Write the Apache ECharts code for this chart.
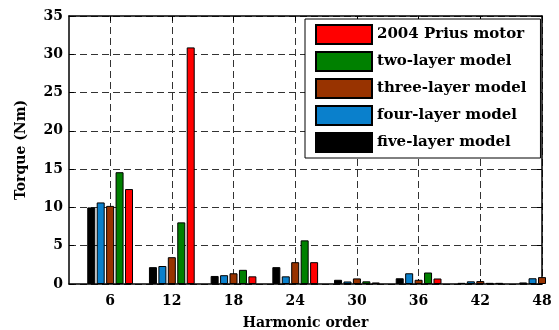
<!DOCTYPE html>
<html>
<head>
<meta charset="utf-8">
<script src="https://cdn.jsdelivr.net/npm/echarts@6/dist/echarts.min.js"></script>
<style>html,body{margin:0;padding:0;background:#fff}#c{width:559px;height:330px}</style>
</head>
<body>
<div id="c"></div>
<script>
const harmonics = [6, 12, 18, 24, 30, 36, 42, 48];
const fiveLayer  = [10.0, 2.2, 1.05, 2.2, 0.55, 0.75, 0.15, 0.2];
const fourLayer  = [10.65, 2.35, 1.15, 1.0, 0.33, 1.4, 0.35, 0.75];
const threeLayer = [10.2, 3.5, 1.4, 2.85, 0.73, 0.55, 0.38, 0.9];
const twoLayer   = [14.6, 8.05, 1.85, 5.7, 0.35, 1.5, 0.15, null];
const prius      = [12.4, 30.9, 1.0, 2.85, 0.2, 0.72, 0.15, null];
const yTicks = [0, 5, 10, 15, 20, 25, 30, 35];

const FONT = 'DejaVu Serif';
const seriesDefs = [
  {name: 'five-layer model', data: fiveLayer, color: '#000000'},
  {name: 'four-layer model', data: fourLayer, color: '#0a80cc'},
  {name: 'three-layer model', data: threeLayer, color: '#983300'},
  {name: 'two-layer model', data: twoLayer, color: '#008000'},
  {name: '2004 Prius motor', data: prius, color: '#ff0000'}
];

const chart = echarts.init(document.getElementById('c'), null, {renderer: 'canvas'});
const grid = {left: 69, right: 17, top: 16, bottom: 46, show: false, containLabel: false, outerBoundsMode: 'none'};
const dashed = {show: true, lineStyle: {color: '#333', type: [7, 4], width: 1}};
chart.setOption({
  animation: false,
  backgroundColor: '#fff',
  grid: grid,
  legend: {
    orient: 'vertical',
    left: 305, top: 19,
    data: ['2004 Prius motor', 'two-layer model', 'three-layer model', 'four-layer model', 'five-layer model'],
    itemWidth: 56, itemHeight: 19, itemGap: 6,
    icon: 'rect',
    padding: [5, 14, 5, 10],
    backgroundColor: '#fff',
    borderColor: '#000', borderWidth: 1, borderRadius: 0,
    textStyle: {fontFamily: FONT, fontWeight: 'bold', fontSize: 15, color: '#000'},
    selectedMode: false
  },
  xAxis: [{
    type: 'value', min: 2, max: 48, position: 'bottom',
    name: 'Harmonic order', nameLocation: 'middle', nameGap: 32,
    nameTextStyle: {fontFamily: FONT, fontWeight: 'bold', fontSize: 14, color: '#000'},
    axisLine: {show: true, onZero: false, lineStyle: {color: '#000', width: 1.5}},
    axisTick: {show: true, inside: true, length: 5, customValues: harmonics, lineStyle: {color: '#000'}},
    axisLabel: {customValues: harmonics, margin: 10, fontFamily: FONT, fontWeight: 'bold', fontSize: 14, color: '#000'},
    splitLine: dashed
  }, {
    type: 'value', min: 2, max: 48, position: 'top',
    axisLine: {show: true, onZero: false, lineStyle: {color: '#000', width: 1.5}},
    axisTick: {show: true, inside: true, length: 5, customValues: harmonics, lineStyle: {color: '#000'}},
    axisLabel: {show: false},
    splitLine: {show: false}
  }],
  yAxis: [{
    type: 'value', min: 0, max: 35, interval: 5, position: 'left',
    name: 'Torque (Nm)', nameLocation: 'middle', nameGap: 41,
    nameTextStyle: {fontFamily: FONT, fontWeight: 'bold', fontSize: 14, color: '#000'},
    axisLine: {show: true, onZero: false, lineStyle: {color: '#000', width: 1.5}},
    axisTick: {show: true, inside: true, length: 5, lineStyle: {color: '#000'}},
    axisLabel: {margin: 6, fontFamily: FONT, fontWeight: 'bold', fontSize: 14, color: '#000'},
    splitLine: dashed
  }, {
    type: 'value', min: 0, max: 35, interval: 5, position: 'right',
    axisLine: {show: true, onZero: false, lineStyle: {color: '#000', width: 1.5}},
    axisTick: {show: true, inside: true, length: 5, lineStyle: {color: '#000'}},
    axisLabel: {show: false},
    splitLine: {show: false}
  }],
  series: seriesDefs.map(s => ({
    type: 'bar', name: s.name,
    xAxisIndex: 0, yAxisIndex: 0,
    data: harmonics.map((h, i) => [h, s.data[i]]),
    barWidth: 8, barGap: '18%',
    clip: false,
    itemStyle: {color: s.color, borderColor: '#000', borderWidth: 1}
  }))
});
</script>
</body>
</html>
